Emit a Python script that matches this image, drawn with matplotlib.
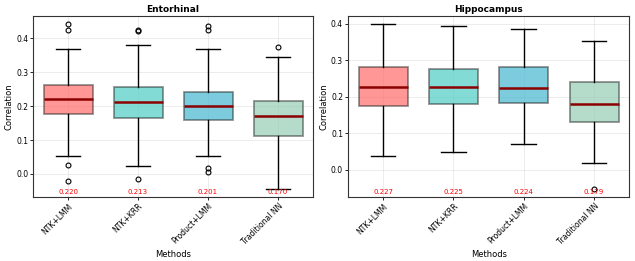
import matplotlib
matplotlib.use('Agg')
import matplotlib.pyplot as plt
import matplotlib.transforms as mtransforms
from matplotlib.colors import to_rgba

methods = ['NTK+LMM', 'NTK+KRR', 'Product+LMM', 'Traditional NN']
box_colors = ['#FF6B6B', '#4ECDC4', '#45B7D1', '#96CEB4']

# Entorhinal box statistics
ent_med   = [0.220, 0.213, 0.201, 0.170]
ent_q1    = [0.178, 0.164, 0.158, 0.111]
ent_q3    = [0.262, 0.256, 0.242, 0.215]
ent_lo    = [0.054, 0.024, 0.054, -0.044]
ent_hi    = [0.369, 0.380, 0.368, 0.346]
ent_fly   = [[0.441, 0.425, 0.027, -0.020],
             [0.424, 0.422, -0.016],
             [0.436, 0.424, 0.018, 0.006],
             [0.374]]

# Hippocampus box statistics
hip_med   = [0.227, 0.225, 0.224, 0.179]
hip_q1    = [0.175, 0.181, 0.183, 0.131]
hip_q3    = [0.280, 0.276, 0.281, 0.239]
hip_lo    = [0.038, 0.048, 0.070, 0.018]
hip_hi    = [0.398, 0.393, 0.385, 0.351]
hip_fly   = [[], [], [], [-0.052]]


def draw_panel(ax, title, med, q1, q3, lo, hi, fly):
    stats = []
    for m, a, b, l, h, f, name in zip(med, q1, q3, lo, hi, fly, methods):
        stats.append(dict(med=m, q1=a, q3=b, whislo=l, whishi=h,
                          fliers=f, label=name))
    bp = ax.bxp(stats, widths=0.7, patch_artist=True, showfliers=True,
                boxprops=dict(linewidth=1.3),
                whiskerprops=dict(color='black', linewidth=1.0),
                capprops=dict(color='black', linewidth=1.0),
                medianprops=dict(color='darkred', linewidth=1.8),
                flierprops=dict(marker='o', markersize=3.5,
                                markerfacecolor='none',
                                markeredgecolor='black',
                                markeredgewidth=0.8))
    for patch, c in zip(bp['boxes'], box_colors):
        patch.set_facecolor(to_rgba(c, 0.7))
        patch.set_edgecolor((0.15, 0.15, 0.15, 0.5))
    trans = mtransforms.blended_transform_factory(ax.transData, ax.transAxes)
    for i, m in enumerate(med):
        ax.text(i + 1, 0.03, f'{m:.3f}', transform=trans, ha='center',
                va='center', fontsize=5, color='red')
    ax.set_title(title, fontsize=6.5, fontweight='bold', pad=3)
    ax.set_ylabel('Correlation', fontsize=6, labelpad=2)
    ax.set_xlabel('Methods', fontsize=6, labelpad=2)
    ax.tick_params(axis='both', labelsize=5.5, length=2, width=0.6, pad=1.5)
    plt.setp(ax.get_xticklabels(), rotation=45, ha='right',
             rotation_mode='anchor')
    ax.grid(True, color='lightgray', alpha=0.5, linewidth=0.6)
    ax.set_axisbelow(True)
    for s in ax.spines.values():
        s.set_linewidth(0.8)
        s.set_color('#333333')


fig = plt.figure(figsize=(6.35, 2.61), dpi=100)
ax1 = fig.add_axes([0.052, 0.245, 0.441, 0.694])
ax2 = fig.add_axes([0.548, 0.245, 0.443, 0.694])

draw_panel(ax1, 'Entorhinal', ent_med, ent_q1, ent_q3, ent_lo, ent_hi, ent_fly)
ax1.set_ylim(-0.068, 0.466)
ax1.set_yticks([0.0, 0.1, 0.2, 0.3, 0.4])

draw_panel(ax2, 'Hippocampus', hip_med, hip_q1, hip_q3, hip_lo, hip_hi, hip_fly)
ax2.set_ylim(-0.075, 0.421)
ax2.set_yticks([0.0, 0.1, 0.2, 0.3, 0.4])

plt.savefig('out.png', dpi=100, facecolor='white')
plt.close()
